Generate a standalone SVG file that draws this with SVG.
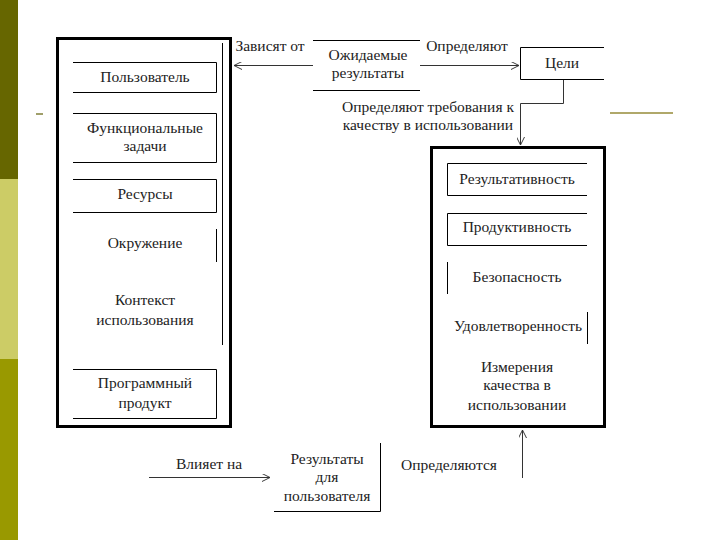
<svg xmlns="http://www.w3.org/2000/svg" width="720" height="540" viewBox="0 0 720 540">
<defs>
<style>
text{font-size:15.5px;fill:#222;text-anchor:middle}
.t{fill:none;stroke:#000;stroke-width:1}
.big{fill:none;stroke:#000;stroke-width:3}
.c{fill:none;stroke:#333;stroke-width:1}
</style>
<marker id="ah" viewBox="0 0 10 10" refX="10" refY="5" markerWidth="8" markerHeight="8" orient="auto" markerUnits="userSpaceOnUse">
<path d="M0,0 L10,5 L0,10" fill="none" stroke="#333" stroke-width="1.2"/>
</marker>
</defs>
<rect width="720" height="540" fill="#fff"/>
<rect x="0" y="0" width="18" height="179" fill="#666600"/>
<rect x="0" y="179" width="18" height="180" fill="#cccc66"/>
<rect x="0" y="359" width="18" height="181" fill="#999900"/>
<line x1="36" y1="114" x2="43" y2="114" stroke="#a09f6a" stroke-width="2"/>
<line x1="610" y1="113" x2="673" y2="113" stroke="#b0a86a" stroke-width="2"/>

<g font-family="Liberation Serif, serif">
<g id="context">
<rect class="big" x="57.5" y="38.5" width="173" height="388"/>
<line class="t" x1="222.5" y1="43" x2="222.5" y2="345"/>
</g>
<g id="user">
<path class="t" d="M73,62.5 H216.5 V92.5 H73"/>
<text x="145" y="82">Пользователь</text>
</g>
<g id="tasks">
<path class="t" d="M73,113.5 H216.5 V162.5 H73"/>
<text x="145" y="133">Функциональные</text>
<text x="145" y="151">задачи</text>
</g>
<g id="resources">
<path class="t" d="M73,179.5 H216.5 V212.5 H73"/>
<text x="145" y="199">Ресурсы</text>
</g>
<g id="environment">
<line class="t" x1="216.5" y1="229" x2="216.5" y2="262"/>
<text x="145" y="248">Окружение</text>
</g>
<g id="context-label">
<text x="145" y="305">Контекст</text>
<text x="145" y="325">использования</text>
</g>
<g id="product">
<path class="t" d="M73,369.5 H216.5 V418.5 H73"/>
<text x="145" y="388">Программный</text>
<text x="145" y="408">продукт</text>
</g>

<g id="expected">
<line class="t" x1="313" y1="40.5" x2="420" y2="40.5"/>
<line class="t" x1="313" y1="90.5" x2="420" y2="90.5"/>
<text x="368" y="60">Ожидаемые</text>
<text x="368" y="78">результаты</text>
</g>
<g id="goals">
<path class="t" d="M604,47.5 H520.5 V79.5 H604"/>
<text x="562" y="68">Цели</text>
</g>

<g id="quality">
<rect class="big" x="431.5" y="147.5" width="173" height="279"/>
</g>
<g id="effectiveness">
<path class="t" d="M587,163.5 H447.5 V195.5 H587"/>
<text x="517" y="184">Результативность</text>
</g>
<g id="productivity">
<path class="t" d="M587,213.5 H447.5 V245.5 H587"/>
<text x="517" y="232">Продуктивность</text>
</g>
<g id="safety">
<line class="t" x1="447.5" y1="262" x2="447.5" y2="294"/>
<text x="517" y="282">Безопасность</text>
</g>
<g id="satisfaction">
<line class="t" x1="587.5" y1="312" x2="587.5" y2="344"/>
<text x="518" y="331">Удовлетворенность</text>
</g>
<g id="quality-label">
<text x="517" y="372">Измерения</text>
<text x="517" y="390">качества в</text>
<text x="517" y="410">использовании</text>
</g>

<g id="results">
<path class="t" d="M274,511.5 H380.5 V443"/>
<text x="327" y="464">Результаты</text>
<text x="327" y="482">для</text>
<text x="327" y="501">пользователя</text>
</g>

<g id="connectors">
<line class="c" x1="313" y1="65.5" x2="234" y2="65.5" marker-end="url(#ah)"/>
<text x="270" y="51">Зависят от</text>
<line class="c" x1="420" y1="65.5" x2="519" y2="65.5" marker-end="url(#ah)"/>
<text x="467" y="51">Определяют</text>
<polyline class="c" points="563.5,80 563.5,103.5 520.5,103.5 520.5,145" marker-end="url(#ah)"/>
<text x="428" y="112">Определяют требования к</text>
<text x="428" y="130">качеству в использовании</text>
<line class="c" x1="149" y1="477.5" x2="270" y2="477.5" marker-end="url(#ah)"/>
<text x="209" y="469">Влияет на</text>
<line class="c" x1="522.5" y1="478" x2="522.5" y2="430" marker-end="url(#ah)"/>
<text x="449" y="470">Определяются</text>
</g>
</g>
</svg>
